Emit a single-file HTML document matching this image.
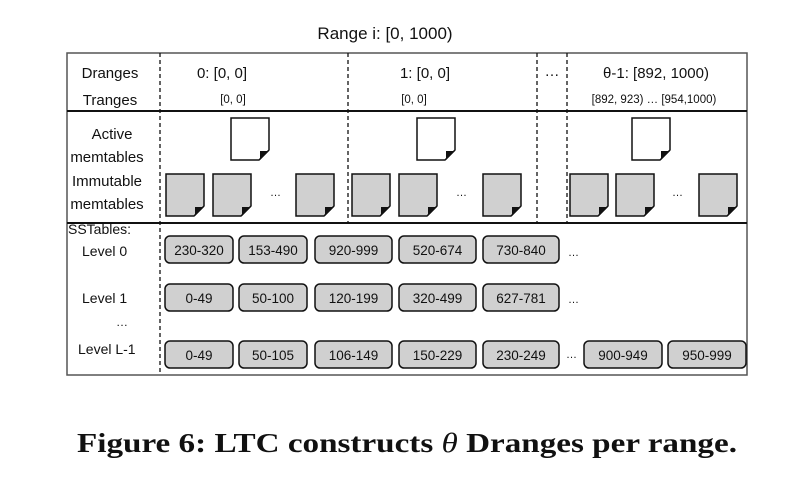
<!DOCTYPE html>
<html><head><meta charset="utf-8"><style>
html,body{margin:0;padding:0;background:#fff}
svg{display:block;font-family:"Liberation Sans",sans-serif}
</style></head><body>
<svg width="790" height="482" viewBox="0 0 790 482">
<text x="385" y="39" font-size="17" text-anchor="middle" fill="#111">Range i: [0, 1000)</text>
<g>
<rect x="67" y="53" width="680" height="322" fill="none" stroke="#555" stroke-width="1.5"/>
<line x1="67" y1="111" x2="747" y2="111" stroke="#111" stroke-width="2"/>
<line x1="67" y1="223" x2="747" y2="223" stroke="#111" stroke-width="2"/>
<line x1="160" y1="53" x2="160" y2="375" stroke="#111" stroke-width="1.3" stroke-dasharray="4,3"/>
<line x1="348" y1="53" x2="348" y2="223" stroke="#111" stroke-width="1.3" stroke-dasharray="4,3"/>
<line x1="537" y1="53" x2="537" y2="223" stroke="#111" stroke-width="1.3" stroke-dasharray="4,3"/>
<line x1="567" y1="53" x2="567" y2="223" stroke="#111" stroke-width="1.3" stroke-dasharray="4,3"/>
</g>
<g font-size="15" fill="#111" text-anchor="middle">
<text x="110" y="78">Dranges</text>
<text x="110" y="105">Tranges</text>
<text x="112" y="139">Active</text>
<text x="107" y="162">memtables</text>
<text x="107" y="186">Immutable</text>
<text x="107" y="209">memtables</text>
<text x="222" y="78">0: [0, 0]</text>
<text x="425" y="78">1: [0, 0]</text>
<text x="552" y="76">…</text>
<text x="656" y="78">θ-1: [892, 1000)</text>
</g>
<g font-size="11.5" fill="#111" text-anchor="middle">
<text x="233" y="103">[0, 0]</text>
<text x="414" y="103">[0, 0]</text>
<text x="654" y="103">[892, 923) … [954,1000)</text>
</g>
<g id="docs"></g>
<g font-size="14" fill="#111">
<text x="68" y="234">SSTables:</text>
<text x="82" y="256">Level 0</text>
<text x="82" y="303">Level 1</text>
<text x="116" y="326" font-size="12">…</text>
<text x="78" y="354">Level L-1</text>
<text x="568" y="256" font-size="11">…</text>
<text x="568" y="303" font-size="11">…</text>
<text x="566" y="358" font-size="11">…</text>
</g>
<g id="sst"></g>
<text x="407" y="452" font-family="'Liberation Serif',serif" font-weight="bold" font-size="27" text-anchor="middle" textLength="660" lengthAdjust="spacingAndGlyphs" fill="#111">Figure 6: LTC constructs <tspan font-style="italic" font-weight="normal">θ</tspan> Dranges per range.</text>
</svg>
<script>
const NS='http://www.w3.org/2000/svg';
const level0=['230-320','153-490','920-999','520-674','730-840'];
const level1=['0-49','50-100','120-199','320-499','627-781'];
const levelL=['0-49','50-105','106-149','150-229','230-249','900-949','950-999'];
const docs=document.getElementById('docs');
function doc(x,y,fill,name){
  const p=document.createElementNS(NS,'path');
  p.setAttribute('d',`M${x} ${y}h38v32l-10 10h-28z`);
  p.setAttribute('fill',fill);p.setAttribute('stroke','#111');p.setAttribute('stroke-width','1.5');
  
  
  docs.appendChild(p);
  const c=document.createElementNS(NS,'path');
  c.setAttribute('d',`M${x+38} ${y+33}l-9 9v-9z`);c.setAttribute('fill','#111');
  docs.appendChild(c);
}
[231,417,632].forEach(x=>doc(x,118,'#fff','active-memtable'));
[166,213,296,352,399,483,570,616,699].forEach(x=>doc(x,174,'#d0d0d0','immutable-memtable'));
[[270,196],[456,196],[672,196]].forEach(([x,y])=>{const t=document.createElementNS(NS,'text');t.setAttribute('x',x);t.setAttribute('y',y);t.setAttribute('font-size','11');t.setAttribute('fill','#111');t.textContent='…';


docs.appendChild(t);});
const sst=document.getElementById('sst');
const xs=[165,239,315,399,483,584,668];
const ws=[68,68,77,77,76,78,78];
function row(arr,y,idx){
  arr.forEach((v,i)=>{
    const j=idx?idx[i]:i;
    const r=document.createElementNS(NS,'rect');
    r.setAttribute('x',xs[j]);r.setAttribute('y',y);r.setAttribute('width',ws[j]);r.setAttribute('height',27);
    r.setAttribute('rx',5);r.setAttribute('fill','#d0d0d0');r.setAttribute('stroke','#111');r.setAttribute('stroke-width','1.5');
    
    
    sst.appendChild(r);
    const t=document.createElementNS(NS,'text');
    t.setAttribute('x',xs[j]+ws[j]/2);t.setAttribute('y',y+19);t.setAttribute('text-anchor','middle');t.setAttribute('font-size','13.5');t.setAttribute('fill','#111');
    t.textContent=v;
    
    
    sst.appendChild(t);
  });
}
row(level0,236);row(level1,284);row(levelL,341);
</script>
</body></html>
